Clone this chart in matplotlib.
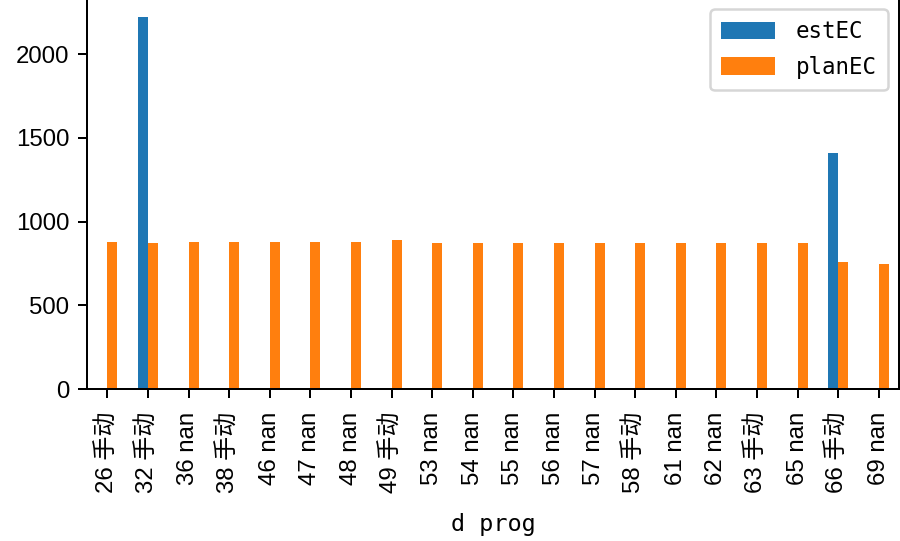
import matplotlib
matplotlib.use("Agg")
import matplotlib.pyplot as plt
import numpy as np

plt.rcParams['font.family'] = ['Liberation Sans', 'Noto Sans CJK SC']

categories = ["26 手动", "32 手动", "36 nan", "38 手动", "46 nan", "47 nan", "48 nan",
              "49 手动", "53 nan", "54 nan", "55 nan", "56 nan", "57 nan", "58 手动",
              "61 nan", "62 nan", "63 手动", "65 nan", "66 手动", "69 nan"]
estEC = [np.nan, 2225, np.nan, np.nan, np.nan, np.nan, np.nan, np.nan, np.nan, np.nan,
         np.nan, np.nan, np.nan, np.nan, np.nan, np.nan, np.nan, np.nan, 1413, np.nan]
planEC = [880, 874, 880, 880, 880, 880, 880, 892, 874, 874,
          874, 874, 874, 874, 874, 874, 874, 874, 760, 748]
series_names = ["estEC", "planEC"]
xlabel = "d prog"

dpi = 180
fig = plt.figure(figsize=(900 / dpi, 541 / dpi), dpi=dpi)
ax = fig.add_axes([87 / 900, 152 / 541, 812 / 900, (541 - 152 + 2) / 541])

x = np.arange(len(categories))
w = 0.25
ax.bar(x - w / 2, np.nan_to_num(estEC), width=w, color='#1f77b4', label=series_names[0])
ax.bar(x + w / 2, planEC, width=w, color='#ff7f0e', label=series_names[1])
ax.set_xlim(-0.5, len(categories) - 0.5)
ax.set_ylim(0, 2225 * 1.05)
ax.set_xticks(x)
ax.set_xticklabels(categories, rotation=90)
ax.set_yticks([0, 500, 1000, 1500, 2000])
ax.tick_params(labelsize=9.6)
ax.tick_params(axis='x', pad=5.5)
ax.set_xlabel(xlabel, fontsize=9.4, family='DejaVu Sans Mono', labelpad=8)
leg = ax.legend(loc='upper right', prop={'family': 'DejaVu Sans Mono', 'size': 9},
                handlelength=2.4, handleheight=0.8, labelspacing=0.55,
                handletextpad=0.9, borderpad=0.5, borderaxespad=0.5)

fig.savefig("out.png", dpi=dpi)
